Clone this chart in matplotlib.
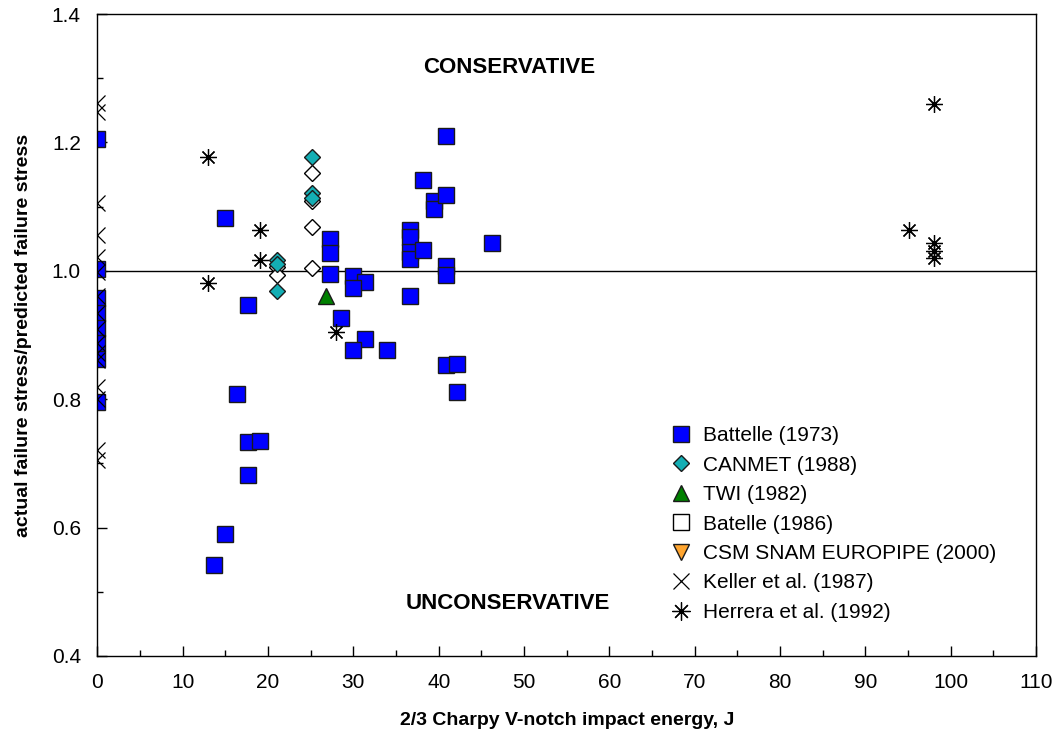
import numpy as np
import matplotlib
matplotlib.use("Agg")
import matplotlib.pyplot as plt
from matplotlib.lines import Line2D
from matplotlib.ticker import MultipleLocator, FormatStrFormatter

plt.rcParams['font.family'] = ['Liberation Sans', 'DejaVu Sans']

# Battelle (1973)
bat73_x = [0, 0, 0, 0, 0, 0, 0, 0,
           15.0, 17.7, 16.4, 17.7, 19.05, 17.7, 15.0, 13.7,
           27.2, 27.2, 27.2, 29.9, 31.3, 29.9, 28.6, 31.3, 29.9, 33.9,
           36.6, 36.6, 36.6, 36.6, 38.1, 36.6, 38.1, 39.4, 39.4,
           40.8, 40.8, 40.8, 40.8, 40.8, 42.1, 42.1, 46.2]
bat73_y = [1.205, 1.003, 0.958, 0.935, 0.911, 0.888, 0.863, 0.796,
           1.082, 0.946, 0.808, 0.733, 0.735, 0.682, 0.590, 0.542,
           1.050, 1.027, 0.995, 0.992, 0.982, 0.973, 0.926, 0.894, 0.877, 0.877,
           1.064, 1.053, 1.030, 1.018, 1.032, 0.960, 1.142, 1.108, 1.096,
           1.210, 1.118, 1.008, 0.993, 0.853, 0.855, 0.811, 1.044]

# CANMET (1988)
canmet_x = [25.1, 25.1, 25.1, 21.0, 21.0, 21.0]
canmet_y = [1.177, 1.121, 1.114, 1.017, 1.011, 0.969]

# TWI (1982)
twi_x = [26.75]
twi_y = [0.960]

# Batelle (1986)
bat86_x = [25.1, 25.1, 25.1, 25.1, 21.0, 21.0]
bat86_y = [1.153, 1.109, 1.068, 1.005, 1.006, 0.993]

# CSM SNAM EUROPIPE (2000) - no points visible
csm_x = []
csm_y = []

# Keller et al. (1987)
keller_x = [0] * 16
keller_y = [1.262, 1.248, 1.106, 1.056, 1.022, 0.998, 0.960, 0.934, 0.910,
            0.888, 0.872, 0.861, 0.819, 0.800, 0.721, 0.705]

# Herrera et al. (1992)
herrera_x = [12.95, 12.95, 19.05, 19.05, 27.96, 98.05, 95.1, 98.05, 98.05, 98.05]
herrera_y = [1.177, 0.981, 1.064, 1.017, 0.905, 1.260, 1.064, 1.043, 1.031, 1.020]

fig = plt.figure(figsize=(10.64, 7.49), dpi=100)
ax = fig.add_axes([0.0916, 0.1242, 0.8821, 0.8571])

ax.axhline(1.0, color='black', lw=1.0, zorder=1)

ax.plot(keller_x, keller_y, ls='none', marker='x', ms=11, mew=0.9, color='black', zorder=3)
ax.plot(herrera_x, herrera_y, ls='none', marker=(8, 2, 0), ms=12, mew=0.9, color='black', zorder=3)
ax.plot(herrera_x, herrera_y, ls='none', marker='o', ms=2.5, color='black', zorder=3)
ax.plot(bat73_x, bat73_y, ls='none', marker='s', ms=11, mfc='#0000FF', mec='#1a1a1a', mew=1.0, zorder=2)
ax.plot(bat86_x, bat86_y, ls='none', marker='D', ms=8, mfc='white', mec='black', mew=1.0, zorder=4)
ax.plot(canmet_x, canmet_y, ls='none', marker='D', ms=8, mfc='#14AEB4', mec='#1a1a1a', mew=1.0, zorder=5)
ax.plot(twi_x, twi_y, ls='none', marker='^', ms=11, mfc='#008000', mec='#1a1a1a', mew=1.0, zorder=5)
ax.plot(csm_x, csm_y, ls='none', marker='v', ms=11, mfc='#FFA52F', mec='#1a1a1a', mew=1.0)

ax.set_xlim(0, 110)
ax.set_ylim(0.4, 1.4)
ax.xaxis.set_major_locator(MultipleLocator(10))
ax.xaxis.set_minor_locator(MultipleLocator(5))
ax.yaxis.set_major_locator(MultipleLocator(0.2))
ax.yaxis.set_minor_locator(MultipleLocator(0.1))
ax.yaxis.set_major_formatter(FormatStrFormatter('%.1f'))
ax.tick_params(which='both', direction='in', top=False, right=False, labelsize=15, width=1.0)
ax.tick_params(which='major', length=7, pad=12)
ax.tick_params(which='minor', length=4)
for s in ax.spines.values():
    s.set_linewidth(1.0)

ax.set_xlabel('2/3 Charpy V-notch impact energy, J', fontsize=14, fontweight='bold', labelpad=15)
ax.set_ylabel('actual failure stress/predicted failure stress', fontsize=14, fontweight='bold', labelpad=14)

ax.text(48.2, 1.317, 'CONSERVATIVE', ha='center', va='center', fontsize=16, fontweight='bold')
ax.text(48.1, 0.481, 'UNCONSERVATIVE', ha='center', va='center', fontsize=16, fontweight='bold')

handles = [
    Line2D([], [], ls='none', marker='s', ms=12, mfc='#0000FF', mec='#1a1a1a', mew=1.0),
    Line2D([], [], ls='none', marker='D', ms=8, mfc='#14AEB4', mec='#1a1a1a', mew=1.0),
    Line2D([], [], ls='none', marker='^', ms=11, mfc='#008000', mec='#1a1a1a', mew=1.0),
    Line2D([], [], ls='none', marker='s', ms=12, mfc='white', mec='black', mew=1.0),
    Line2D([], [], ls='none', marker='v', ms=11, mfc='#FFA52F', mec='#1a1a1a', mew=1.0),
    Line2D([], [], ls='none', marker='x', ms=12, mew=0.9, color='black'),
    Line2D([], [], ls='none', marker=(8, 2, 0), ms=13, mew=0.9, color='black'),
]
labels = ['Battelle (1973)', 'CANMET (1988)', 'TWI (1982)', 'Batelle (1986)',
          'CSM SNAM EUROPIPE (2000)', 'Keller et al. (1987)', 'Herrera et al. (1992)']
ax.legend(handles, labels, loc='upper left', bbox_to_anchor=(0.6, 0.374), frameon=False,
          fontsize=15, handlelength=1.0, handletextpad=0.55, labelspacing=0.5, borderpad=0)

fig.savefig('out.png', dpi=100)
